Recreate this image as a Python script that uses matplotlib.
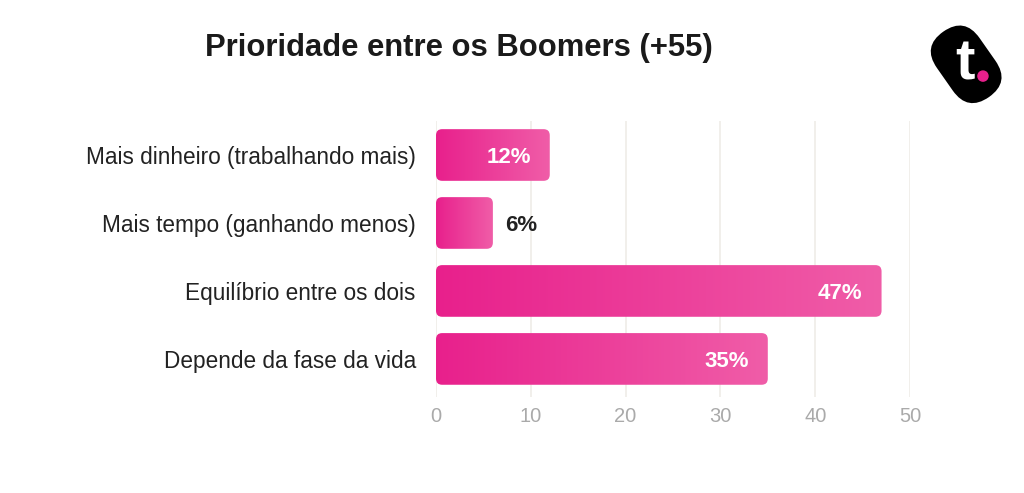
import numpy as np
import matplotlib
matplotlib.use("Agg")
import matplotlib.pyplot as plt
from matplotlib.patches import FancyBboxPatch, Circle
from matplotlib.colors import LinearSegmentedColormap
from matplotlib import transforms

categories = ["Mais dinheiro (trabalhando mais)", "Mais tempo (ganhando menos)",
              "Equilíbrio entre os dois", "Depende da fase da vida"]
values = [12, 6, 47, 35]
labels = ["12%", "6%", "47%", "35%"]
xticks = [0, 10, 20, 30, 40, 50]
title = "Prioridade entre os Boomers (+55)"

plt.rcParams['font.family'] = ['Liberation Sans', 'DejaVu Sans']

W, H = 1024, 493
fig = plt.figure(figsize=(W / 100, H / 100), dpi=100)
fig.patch.set_facecolor("white")

left, right = 436 / W, 910 / W
top, bottom = 1 - 121 / H, 1 - 397 / H
ax = fig.add_axes([left, bottom, right - left, top - bottom])

cmap = LinearSegmentedColormap.from_list("pk", ["#E8208C", "#F05DA8"])
grad = np.linspace(0, 1, 256).reshape(1, -1)
bh = 0.76
for i, v in enumerate(values):
    patch = FancyBboxPatch((0, i - bh / 2), v, bh,
                           boxstyle="round,pad=0,rounding_size=0.65",
                           mutation_aspect=0.14, linewidth=0,
                           facecolor="none", zorder=3)
    ax.add_patch(patch)
    im = ax.imshow(grad, cmap=cmap, aspect="auto",
                   extent=(0, v, i + bh / 2, i - bh / 2), zorder=3)
    im.set_clip_path(patch)
    if v >= 10:
        ax.text(v - 2.0, i, labels[i], ha="right", va="center_baseline",
                color="white", fontsize=16, fontweight="bold", zorder=5)
    else:
        ax.text(v + 1.3, i, labels[i], ha="left", va="center_baseline",
                color="#222222", fontsize=16, fontweight="bold", zorder=5)

ax.set_xlim(0, 50)
ax.set_ylim(3.56, -0.5)
ax.set_xticks(xticks)
ax.set_yticks(range(len(categories)))
ax.set_yticklabels(categories, fontsize=16.3, color="#222222")
ax.tick_params(axis="x", colors="#AAAAAA", labelsize=14.5, length=0, pad=7)
ax.tick_params(axis="y", length=0, pad=14.5)
ax.grid(axis="x", color="#EDEBE6", linewidth=1.1, zorder=0)
ax.set_axisbelow(True)
for s in ax.spines.values():
    s.set_visible(False)

fig.text(459 / W, 1 - 48 / H, title, ha="center", va="center",
         fontsize=22.3, fontweight="bold", color="#1A1A1A")

# logo
lax = fig.add_axes([925 / W, 1 - 108 / H, 84 / W, 84 / H])
lax.set_xlim(-1, 1)
lax.set_ylim(-1, 1)
lax.set_aspect("equal")
lax.axis("off")
tr = (transforms.Affine2D().rotate_deg(-55).translate(-0.02, 0.04)
      + lax.transData)
blob = FancyBboxPatch((-0.95, -0.62), 1.9, 1.24,
                      boxstyle="round,pad=0,rounding_size=0.62",
                      facecolor="black", edgecolor="none", transform=tr)
lax.add_patch(blob)
lax.text(-0.04, 0.03, "t", ha="center", va="center", color="white",
         fontsize=42, fontweight="bold")
lax.add_patch(Circle((0.38, -0.24), 0.12, color="#E8208C"))

fig.savefig("out.png", dpi=100)
